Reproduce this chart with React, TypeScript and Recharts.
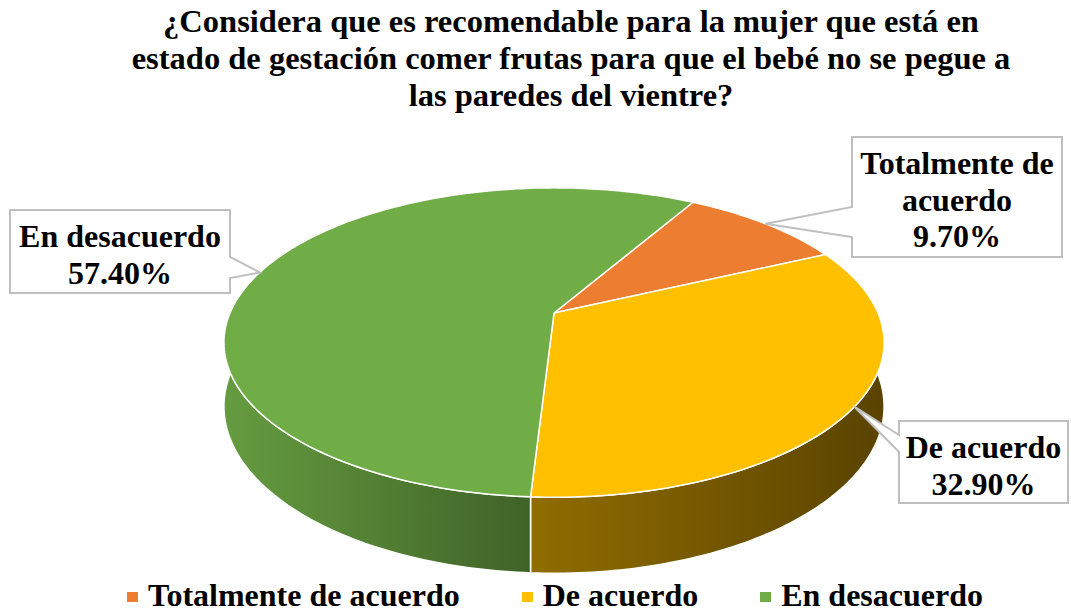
import React from 'react';
import { PieChart, Pie, Cell, Legend } from 'recharts';

const categories = ['Totalmente de acuerdo', 'De acuerdo', 'En desacuerdo'];
const percentages = [9.7, 32.9, 57.4];
const sliceColors = ['#ED7D31', '#FFC000', '#70AD47'];
const titleLines = [
  '¿Considera que es recomendable para la mujer que está en',
  'estado de gestación comer frutas para que el bebé no se pegue a',
  'las paredes del vientre?',
];

const data = categories.map((name, i) => ({ name, value: percentages[i] }));

const FONT = '"Liberation Serif", "Times New Roman", serif';

// fake 3d: flattened disc with a little perspective and a side wall
const TILT = 0.46;
const PERSP = 0.191;
const DEPTH = 0.19;

// callout boxes (chart pixels), same order as categories
const callouts = [
  { x: 852, y: 137, w: 210, h: 120, side: 'left', p1: 207, p2: 237, wordsPerLine: 2 },
  { x: 899, y: 421, w: 169, h: 82, side: 'left', p1: 435, p2: 452, wordsPerLine: 9 },
  { x: 10, y: 210, w: 220, h: 83, side: 'right', p1: 257, p2: 278, wordsPerLine: 9 },
];

const proj = (cx: number, cy: number, r: number, deg: number, drop = 0) => {
  const a = (deg * Math.PI) / 180;
  const u = Math.cos(a);
  const v = Math.sin(a);
  const s = 1 / (1 + PERSP * v);
  return [cx + r * u * s, cy - r * TILT * v * s + drop * r * DEPTH * s];
};

const shade = (hex: string, f: number) => {
  const n = parseInt(hex.slice(1), 16);
  const c = [(n >> 16) & 255, (n >> 8) & 255, n & 255].map((x) => Math.round(x * f));
  return `rgb(${c[0]},${c[1]},${c[2]})`;
};

const rim = (cx: number, cy: number, r: number, a: number, b: number, drop: number) => {
  const n = Math.max(2, Math.ceil(Math.abs(b - a)));
  const pts: string[] = [];
  for (let i = 0; i <= n; i++) {
    const [x, y] = proj(cx, cy, r, a + ((b - a) * i) / n, drop);
    pts.push(`${x.toFixed(2)},${y.toFixed(2)}`);
  }
  return pts;
};

const TopShape = (props: any) => {
  const { cx, cy, outerRadius, startAngle, endAngle, fill } = props;
  const pts = rim(cx, cy, outerRadius, startAngle, endAngle, 0);
  const d = `M${cx},${cy}L${pts.join('L')}Z`;
  return <path d={d} fill={fill} stroke="#fff" strokeWidth={1.5} strokeLinejoin="round" />;
};

const WallShape = (props: any) => {
  const { cx, cy, outerRadius, startAngle, endAngle, fill } = props;
  const lo = Math.min(startAngle, endAngle);
  const hi = Math.max(startAngle, endAngle);
  const parts: number[][] = [];
  for (let k = -2; k <= 1; k++) {
    const a = Math.max(lo, -180 + 360 * k);
    const b = Math.min(hi, 360 * k);
    if (b > a) parts.push([a, b]);
  }
  if (!parts.length) return <g />;
  const id = `wall-${String(fill).replace('#', '')}`;
  return (
    <g>
      <defs>
        <linearGradient
          id={id}
          gradientUnits="userSpaceOnUse"
          x1={cx - outerRadius * 1.02}
          x2={cx + outerRadius * 1.02}
          y1={0}
          y2={0}
        >
          <stop offset="0" stopColor={shade(fill, 0.9)} />
          <stop offset="0.46" stopColor={shade(fill, 0.57)} />
          <stop offset="1" stopColor={shade(fill, 0.35)} />
        </linearGradient>
      </defs>
      {parts.map(([a, b], i) => {
        const top = rim(cx, cy, outerRadius, a, b, 0);
        const bottom = rim(cx, cy, outerRadius, b, a, 1);
        return (
          <path
            key={i}
            d={`M${top.join('L')}L${bottom.join('L')}Z`}
            fill={`url(#${id})`}
            stroke="#fff"
            strokeWidth={1.5}
          />
        );
      })}
    </g>
  );
};

const renderCallout = (props: any) => {
  const { index, midAngle, cx, cy, outerRadius, name, value } = props;
  const box = callouts[index];
  const [tx, ty] = proj(cx, cy, outerRadius, midAngle, 0);
  const left = box.x;
  const right = box.x + box.w;
  const top = box.y;
  const bottom = box.y + box.h;
  const d =
    box.side === 'left'
      ? `M${left},${top}H${right}V${bottom}H${left}V${box.p2}L${tx},${ty}L${left},${box.p1}Z`
      : `M${left},${top}H${right}V${box.p1}L${tx},${ty}L${right},${box.p2}V${bottom}H${left}Z`;
  const words = String(name).split(' ');
  const lines: string[] = [];
  for (let i = 0; i < words.length; i += box.wordsPerLine) {
    lines.push(words.slice(i, i + box.wordsPerLine).join(' '));
  }
  lines.push(`${Number(value).toFixed(2)}%`);
  return (
    <g>
      <path d={d} fill="#fff" stroke="#bfbfbf" strokeWidth={2} />
      {lines.map((t, i) => (
        <text
          key={i}
          x={left + box.w / 2}
          y={top + 37 + i * 36.5}
          textAnchor="middle"
          fontFamily={FONT}
          fontWeight="bold"
          fontSize={32}
          fill="#000"
        >
          {t}
        </text>
      ))}
    </g>
  );
};

// legend drawn from the same category/colour arrays, in data order
const renderLegend = () => (
  <div style={{ display: 'flex', alignItems: 'center', fontFamily: FONT, whiteSpace: 'nowrap' }}>
    {categories.map((name, i) => (
      <div key={name} style={{ display: 'flex', alignItems: 'center', marginRight: 62 }}>
        <span
          style={{ display: 'inline-block', width: 11, height: 10, background: sliceColors[i], marginRight: 10, marginTop: 4 }}
        />
        <span style={{ fontSize: 32, fontWeight: 'bold', color: '#000', lineHeight: '32px' }}>{name}</span>
      </div>
    ))}
  </div>
);

export default function App() {
  return (
    <div
      style={{
        position: 'absolute',
        left: 0,
        top: 0,
        width: 1071,
        height: 612,
        background: '#fff',
        overflow: 'hidden',
      }}
    >
      <div
        style={{
          position: 'absolute',
          left: 71,
          top: 3,
          width: 1000,
          textAlign: 'center',
          fontFamily: FONT,
          fontWeight: 'bold',
          fontSize: 32.5,
          lineHeight: '37px',
          color: '#000',
          whiteSpace: 'nowrap',
        }}
      >
        {titleLines.map((t) => (
          <div key={t}>{t}</div>
        ))}
      </div>
      <PieChart width={1071} height={612} style={{ position: 'absolute', left: 0, top: 0 }}>
        <Pie
          data={data}
          dataKey="value"
          nameKey="name"
          cx={549}
          cy={308}
          outerRadius={324}
          startAngle={60}
          endAngle={-300}
          legendType="none"
          shape={WallShape}
          isAnimationActive={false}
        >
          {data.map((d, i) => (
            <Cell key={d.name} fill={sliceColors[i]} />
          ))}
        </Pie>
        <Pie
          data={data}
          dataKey="value"
          nameKey="name"
          cx={549}
          cy={308}
          outerRadius={324}
          startAngle={60}
          endAngle={-300}
          shape={TopShape}
          label={renderCallout}
          labelLine={false}
          isAnimationActive={false}
        >
          {data.map((d, i) => (
            <Cell key={d.name} fill={sliceColors[i]} />
          ))}
        </Pie>
        <Legend
          content={renderLegend}
          wrapperStyle={{ position: 'absolute', left: 127, top: 579, width: 'auto', bottom: 'auto', height: 'auto' }}
        />
      </PieChart>
    </div>
  );
}
